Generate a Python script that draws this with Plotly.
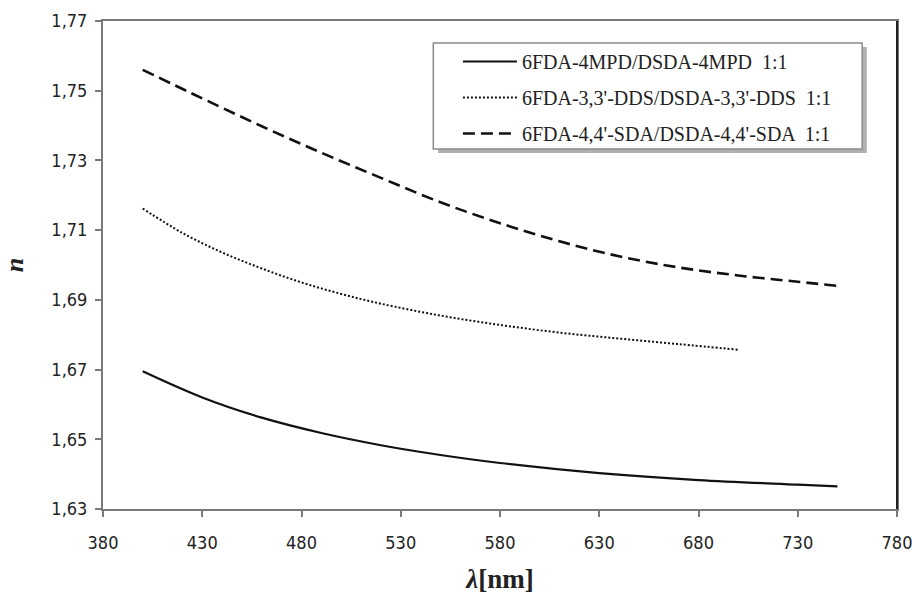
import plotly.graph_objects as go

# wavelength (nm) and refractive index values
wl_4mpd = [400, 430, 460, 490, 520, 550, 580, 630, 680, 730, 750]
n_4mpd = [1.6695, 1.6620, 1.6562, 1.6518, 1.6483, 1.6455, 1.6432, 1.6403, 1.6383, 1.6370, 1.6365]

wl_dds = [400, 420, 440, 460, 480, 500, 520, 550, 580, 610, 640, 670, 700]
n_dds = [1.7162, 1.7092, 1.7036, 1.6990, 1.6950, 1.6917, 1.6889, 1.6855, 1.6828, 1.6806, 1.6789, 1.6773, 1.6757]

wl_sda = [400, 430, 460, 490, 520, 550, 580, 610, 640, 670, 700, 730, 750]
n_sda = [1.7560, 1.7478, 1.7398, 1.7322, 1.7250, 1.7180, 1.7120, 1.7068, 1.7025, 1.6993, 1.6970, 1.6952, 1.6940]

names = ["6FDA-4MPD/DSDA-4MPD  1:1",
         "6FDA-3,3'-DDS/DSDA-3,3'-DDS  1:1",
         "6FDA-4,4'-SDA/DSDA-4,4'-SDA  1:1"]

x_ticks = [380, 430, 480, 530, 580, 630, 680, 730, 780]
y_ticks = [1.63, 1.65, 1.67, 1.69, 1.71, 1.73, 1.75, 1.77]

fig = go.Figure()
fig.add_trace(go.Scatter(x=wl_4mpd, y=n_4mpd, mode="lines", name=names[0], legendgroup="a",
                         line=dict(color="#111111", width=2.2, shape="spline", smoothing=1)))
fig.add_trace(go.Scatter(x=wl_dds, y=n_dds, mode="lines", name=names[1], legendgroup="b",
                         line=dict(color="#111111", width=2, dash="2px,2px", shape="spline", smoothing=1)))
fig.add_trace(go.Scatter(x=wl_sda, y=n_sda, mode="lines", name=names[2], legendgroup="c",
                         line=dict(color="#111111", width=2.6, dash="12px,6px", shape="spline", smoothing=1)))

axis_common = dict(showline=True, linecolor="#7a7a7a", linewidth=2, ticks="outside",
                   tickcolor="#7a7a7a", ticklen=6, tickwidth=1.5, showgrid=False, zeroline=False,
                   mirror=True, automargin=False, ticklabeloverflow="allow",
                   tickfont=dict(family="DejaVu Sans Condensed, DejaVu Sans", size=18, color="#222222"))

fig.update_xaxes(range=[380, 780], tickvals=x_ticks, ticktext=[str(v) for v in x_ticks],
                 ticklabelstandoff=10,
                 title=dict(text="<b><i>λ</i>[nm]</b>", font=dict(family="Liberation Serif", size=27, color="#222222"),
                            standoff=18), **axis_common)
fig.update_yaxes(range=[1.63, 1.77], tickvals=y_ticks, ticktext=[f"{v:.2f}".replace(".", ",") for v in y_ticks],
                 ticklabelstandoff=4,
                 title=dict(text="<b><i>n</i></b>", font=dict(family="Liberation Serif", size=26, color="#222222"),
                            standoff=22), **axis_common)

# darker right frame line of the plot area
fig.add_shape(type="line", xref="paper", yref="paper", x0=1, x1=1, y0=0, y1=1,
              line=dict(color="#222222", width=2), layer="above")
# legend shadow and box
fig.add_shape(type="rect", xref="paper", yref="paper", x0=0.422, x1=0.962, y0=0.7295, y1=0.9467,
              fillcolor="#b0b0b0", line=dict(width=0), layer="above")
fig.add_shape(type="rect", xref="paper", yref="paper", x0=0.4160, x1=0.9561, y0=0.7377, y1=0.9549,
              fillcolor="white", line=dict(color="#8a8a8a", width=1.5), layer="above")

fig.update_layout(
    width=912, height=594,
    margin=dict(l=103, r=15, t=21, b=85),
    paper_bgcolor="white", plot_bgcolor="white",
    showlegend=True,
    legend=dict(x=0.447, y=0.957, xanchor="left", yanchor="top",
                bgcolor="rgba(0,0,0,0)", borderwidth=0,
                font=dict(family="Liberation Serif", size=20, color="#222222"),
                itemwidth=54, tracegroupgap=7, traceorder="grouped"),
)

fig.write_html("out.html", config={"displayModeBar": False},
               post_script="document.body.style.margin='0';document.body.style.overflow='hidden';")
